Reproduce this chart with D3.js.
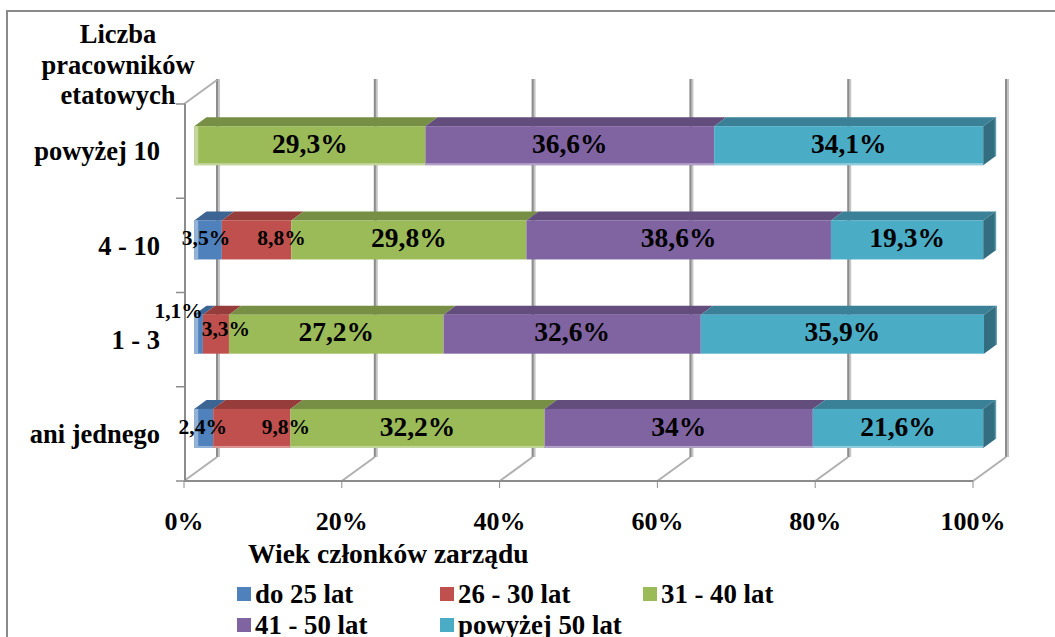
<!DOCTYPE html>
<html><head><meta charset="utf-8">
<script src="https://cdn.jsdelivr.net/npm/d3@7"></script>
<style>html,body{margin:0;padding:0;background:#fff}svg{display:block}text{font-family:"Liberation Serif",serif;font-weight:bold;fill:#000}</style>
</head><body><svg id="c" width="1055" height="637"></svg>
<script>
const categories=["powyżej 10","4 - 10","1 - 3","ani jednego"];
const seriesNames=["do 25 lat","26 - 30 lat","31 - 40 lat","41 - 50 lat","powyżej 50 lat"];
const do25=[0,3.5,1.1,2.4];
const s2630=[0,8.8,3.3,9.8];
const s3140=[29.3,29.8,27.2,32.2];
const s4150=[36.6,38.6,32.6,34];
const pow50=[34.1,19.3,35.9,21.6];
const ticks=[0,20,40,60,80,100];
const colors=["#4f81bd","#c0504d","#9bbb59","#8064a2","#4bacc6"];
const topColors=["#3d6594","#963d3b","#778f45","#624d7d","#3a8197"];
const seriesValues=[do25,s2630,s3140,s4150,pow50];

const svg=d3.select("#c");
const g=svg.append("g");
// chart frame: runs past the right and bottom edges of the picture
g.append("rect").attr("x",7).attr("y",11).attr("width",1100).attr("height",700).attr("fill","#fff").attr("stroke","#8a8a8a").attr("stroke-width",2);

const x=d3.scaleLinear().domain([0,100]).range([184,973]);
const y=d3.scaleBand().domain(categories).range([104,481]);
const barH=39, depthX=33, depthY=24, t0=0.31, t1=0.68;
const grid="#8c8c8c";
const bevels=[2,0,0,2];
// back wall + floor gridlines
ticks.forEach(t=>{
  const px=x(t);
  g.append("line").attr("x1",px+depthX+1.5).attr("x2",px+depthX+1.5).attr("y1",103-depthY).attr("y2",481-depthY).attr("stroke","#c4c4c4").attr("stroke-width",3);
  g.append("line").attr("x1",px+depthX).attr("x2",px+depthX).attr("y1",103-depthY).attr("y2",481-depthY).attr("stroke",grid).attr("stroke-width",2);
  g.append("line").attr("x1",px).attr("x2",px+depthX).attr("y1",481).attr("y2",481-depthY).attr("stroke","#b0b0b0").attr("stroke-width",2);
  g.append("line").attr("x1",px).attr("x2",px).attr("y1",481).attr("y2",488).attr("stroke",grid).attr("stroke-width",1);
});
g.append("line").attr("x1",x(0)).attr("x2",x(0)+depthX).attr("y1",104).attr("y2",104-depthY).attr("stroke","#b0b0b0").attr("stroke-width",2);
// front axes
g.append("line").attr("x1",x(0)).attr("x2",x(100)).attr("y1",481).attr("y2",481).attr("stroke",grid).attr("stroke-width",2);
g.append("line").attr("x1",x(0)+1).attr("x2",x(0)+1).attr("y1",104).attr("y2",482).attr("stroke",grid).attr("stroke-width",2);
categories.forEach(c=>{
  g.append("line").attr("x1",176).attr("x2",185).attr("y1",y(c)+y.step()).attr("y2",y(c)+y.step()).attr("stroke",grid).attr("stroke-width",1.5);
});
g.append("line").attr("x1",176).attr("x2",185).attr("y1",104).attr("y2",104).attr("stroke",grid).attr("stroke-width",1.5);

// bars
const fx=v=>x(v)+depthX*t0;
const bx=v=>x(v)+depthX*t1;
const rowY=c=>y(c)+y.bandwidth()/2-depthY*t0-barH/2+2;
const topH=9;
categories.forEach((c,ci)=>{
  let acc=0;
  const fy=rowY(c);
  const row=g.append("g");
  seriesValues.forEach((vals,si)=>{
    const v=vals[ci];
    if(!v) return;
    const a=acc,b=acc+v; acc=b;
    row.append("polygon").attr("points",[[fx(a),fy],[fx(b),fy],[bx(b),fy-topH],[bx(a),fy-topH]].map(p=>p.join(",")).join(" ")).attr("fill",topColors[si]);
    row.append("rect").attr("x",fx(a)).attr("y",fy).attr("width",fx(b)-fx(a)).attr("height",barH).attr("fill",colors[si]);
    if(bevels[ci]) row.append("rect").attr("x",fx(a)).attr("y",fy+barH-bevels[ci]).attr("width",fx(b)-fx(a)).attr("height",bevels[ci]).attr("fill",d3.interpolateRgb(colors[si],"#fff")(0.4));
    if(a===0) row.append("rect").attr("x",fx(0)).attr("y",fy).attr("width",4).attr("height",barH).attr("fill",d3.interpolateRgb(colors[si],"#fff")(0.4));
  });
  // right side
  row.append("polygon").attr("points",[[fx(acc),fy],[bx(acc),fy-topH],[bx(acc),fy-topH+barH],[fx(acc),fy+barH]].map(p=>p.join(",")).join(" ")).attr("fill","#336d80");
  row.append("line").attr("x1",bx(acc)).attr("x2",bx(acc)).attr("y1",fy-topH).attr("y2",fy-topH+barH).attr("stroke","#5f9bae").attr("stroke-width",1.5);
});

// data labels
const nudge={"1":{0:[-2,0,21.5],1:[25,0,21.5]},"2":{0:[-20,-21,21.5],1:[10,-3,21.5]},"3":{0:[-1,0,21.5],1:[34,0,21.5]}};
categories.forEach((c,ci)=>{
  let acc=0;
  const fy=rowY(c)-2;
  seriesValues.forEach((vals,si)=>{
    const v=vals[ci];
    if(!v) return;
    const mid=acc+v/2; acc+=v;
    const n=(nudge[ci]&&nudge[ci][si])||[0,0,27.5];
    g.append("text").attr("x",fx(mid)+n[0]).attr("y",fy+barH/2+n[1]).attr("dy","0.33em").attr("text-anchor","middle").attr("font-size",n[2]).text(String(v).replace(".",",")+"%");
  });
});

// category labels
categories.forEach(c=>{
  g.append("text").attr("x",160).attr("y",y(c)+y.bandwidth()/2+0.5).attr("dy","0.33em").attr("text-anchor","end").attr("font-size",26.5).text(c);
});
// axis title (y)
["Liczba","pracowników","etatowych"].forEach((s,i)=>g.append("text").attr("x",118).attr("y",43+i*30.5).attr("text-anchor","middle").attr("font-size",26.5).text(s));
// x tick labels
ticks.forEach(t=>g.append("text").attr("x",x(t)).attr("y",530).attr("text-anchor","middle").attr("font-size",26).text(t+"%"));
// x title
g.append("text").attr("x",248).attr("y",563).attr("font-size",27.5).text("Wiek członków zarządu");
// legend
const lx=[237,440,643,237,440], ly=[594,594,594,625,625];
seriesNames.forEach((s,i)=>{
  g.append("rect").attr("x",lx[i]).attr("y",ly[i]-7).attr("width",14).attr("height",14).attr("fill",colors[i]);
  g.append("text").attr("x",lx[i]+18).attr("y",ly[i]+9).attr("font-size",26.8).text(s);
});
</script></body></html>
